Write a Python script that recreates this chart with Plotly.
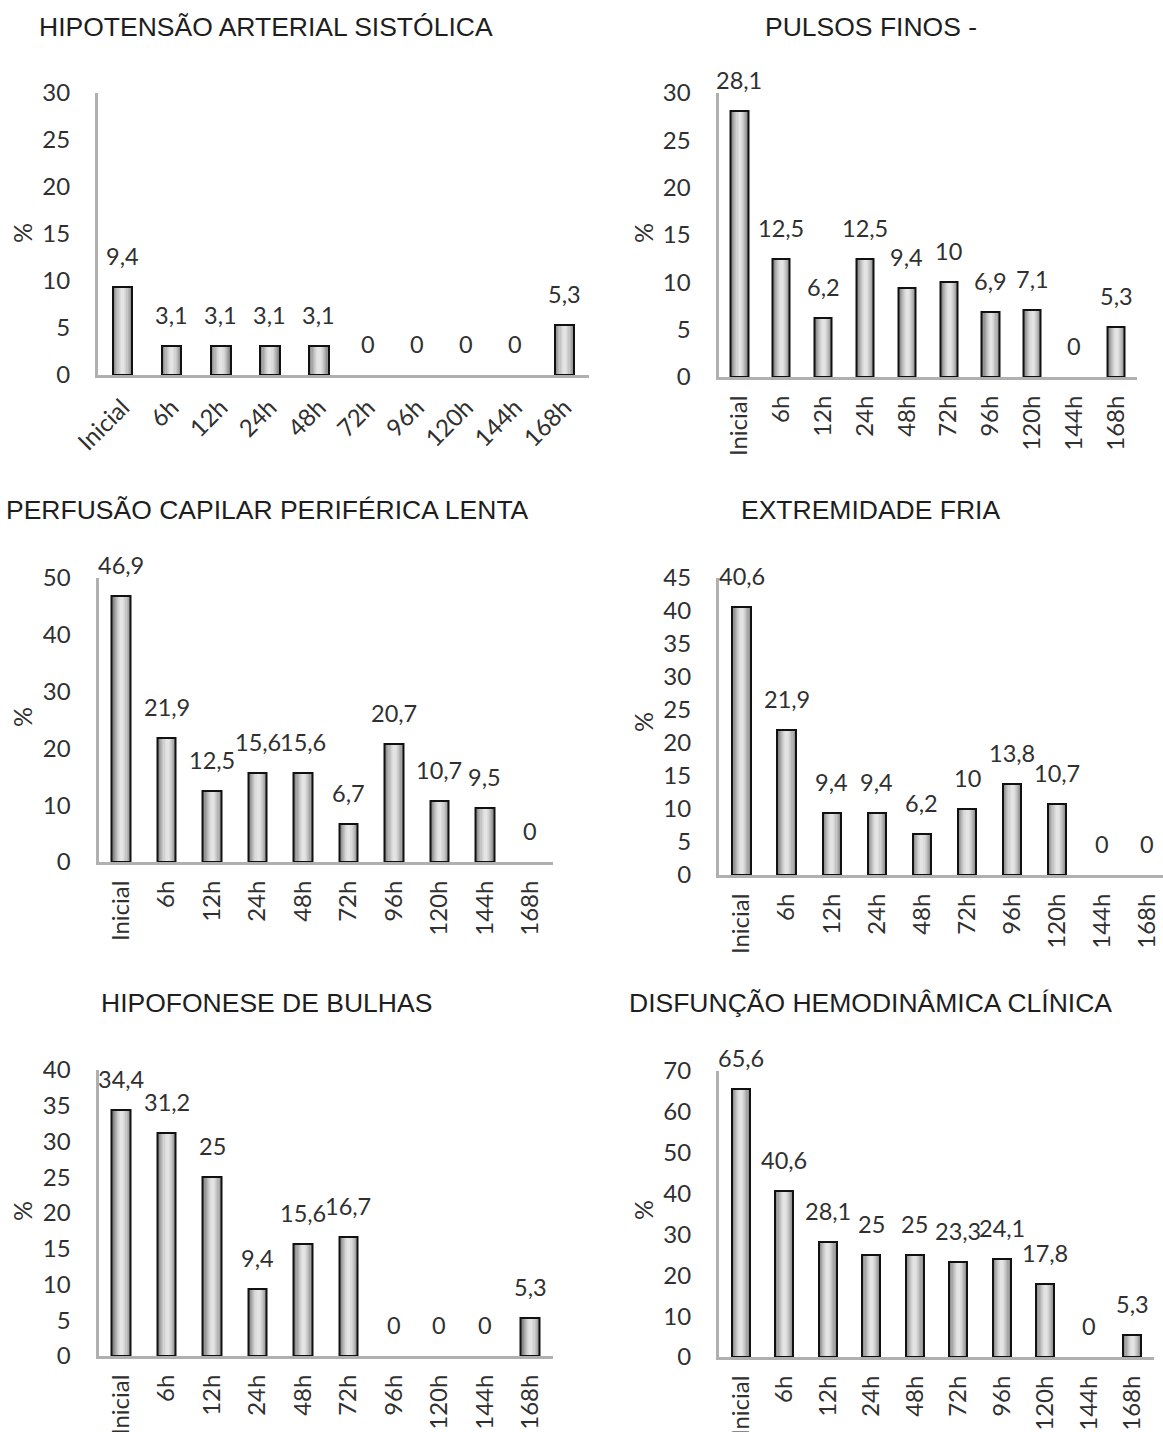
import plotly.graph_objects as go

# Time points shared by all panels
categories = ["Inicial", "6h", "12h", "24h", "48h", "72h", "96h", "120h", "144h", "168h"]

# Percentage of patients with each sign at each time point
hipotensao = [9.4, 3.1, 3.1, 3.1, 3.1, 0, 0, 0, 0, 5.3]
pulsos_finos = [28.1, 12.5, 6.2, 12.5, 9.4, 10, 6.9, 7.1, 0, 5.3]
perfusao = [46.9, 21.9, 12.5, 15.6, 15.6, 6.7, 20.7, 10.7, 9.5, 0]
extremidade = [40.6, 21.9, 9.4, 9.4, 6.2, 10, 13.8, 10.7, 0, 0]
hipofonese = [34.4, 31.2, 25, 9.4, 15.6, 16.7, 0, 0, 0, 5.3]
disfuncao = [65.6, 40.6, 28.1, 25, 25, 23.3, 24.1, 17.8, 0, 5.3]

titles = [
    "HIPOTENSÃO ARTERIAL SISTÓLICA",
    "PULSOS FINOS -",
    "PERFUSÃO CAPILAR PERIFÉRICA LENTA",
    "EXTREMIDADE FRIA",
    "HIPOFONESE DE BULHAS",
    "DISFUNÇÃO HEMODINÂMICA CLÍNICA",
]
series = [hipotensao, pulsos_finos, perfusao, extremidade, hipofonese, disfuncao]
y_max = [30, 30, 50, 45, 40, 70]
y_step = [5, 5, 10, 5, 5, 10]

W, H = 1163, 1432

# Pixel layout of each panel: plot-area left/right, top/bottom, x range end,
# bar width, x tick angle, title centre, "%" label centre
panels = [
    dict(x0=98, x1=589, top=93, bot=375, xend=9.5, bw=0.40, angle=-45,
         title=(266, 27), pct=(22, 233)),
    dict(x0=718.5, x1=1137, top=93, bot=377, xend=9.5, bw=0.41, angle=-90,
         title=(871, 27), pct=(643, 233)),
    dict(x0=98.5, x1=553, top=578, bot=862, xend=9.5, bw=0.41, angle=-90,
         title=(267, 510), pct=(22, 717)),
    dict(x0=719, x1=1163, top=578, bot=875, xend=9.345, bw=0.41, angle=-90,
         title=(870, 510), pct=(643, 722)),
    dict(x0=98.5, x1=553, top=1070, bot=1356, xend=9.5, bw=0.41, angle=-90,
         title=(266, 1003), pct=(22, 1211)),
    dict(x0=719, x1=1154, top=1071, bot=1357, xend=9.5, bw=0.41, angle=-90,
         title=(870, 1003), pct=(643, 1210)),
]

NUM_FONT = "Lato"
TITLE_FONT = "Liberation Sans"
TEXT_COLOR = "#303030"
AXIS_COLOR = "#b0b0b0"

# Nested layers that fake the cylinder-like shading of each bar
# (dark grey at the sides, nearly white in the middle)
shade_layers = [(1.00, "#848484"), (0.88, "#959595"), (0.76, "#a6a6a6"),
                (0.64, "#b6b6b6"), (0.52, "#c5c5c5"), (0.40, "#d2d2d2"),
                (0.28, "#dcdcdc"), (0.16, "#e4e4e4")]

fig = go.Figure()
annotations = []
layout_axes = {}

for i, (vals, p) in enumerate(zip(series, panels)):
    n = i + 1
    xa = "x" if n == 1 else f"x{n}"
    ya = "y" if n == 1 else f"y{n}"
    shown = [v if v > 0 else None for v in vals]

    for frac, col in shade_layers:
        fig.add_trace(go.Bar(
            x=categories, y=shown, width=p["bw"] * frac,
            marker=dict(color=col, line=dict(width=0)),
            xaxis=xa, yaxis=ya, showlegend=False, hoverinfo="skip",
        ))
    # black outline on top of the shading
    fig.add_trace(go.Bar(
        x=categories, y=shown, width=p["bw"],
        marker=dict(color="rgba(0,0,0,0)", line=dict(color="#111111", width=2)),
        xaxis=xa, yaxis=ya, showlegend=False,
        hovertemplate="%{x}: %{y}%<extra></extra>",
    ))

    # value labels above each bar
    for c, v in zip(categories, vals):
        annotations.append(dict(
            x=c, y=v, xref=xa, yref=ya, text=f"{v:g}".replace(".", ","),
            showarrow=False, yanchor="middle", yshift=31,
            font=dict(family=NUM_FONT, size=23.5, color=TEXT_COLOR),
        ))

    # panel title
    annotations.append(dict(
        x=p["title"][0] / W, y=1 - p["title"][1] / H, xref="paper", yref="paper",
        text=titles[i], showarrow=False, xanchor="center", yanchor="middle",
        font=dict(family=TITLE_FONT, size=26.5, color="#1e1e1e"),
    ))
    # y axis label
    annotations.append(dict(
        x=p["pct"][0] / W, y=1 - p["pct"][1] / H, xref="paper", yref="paper",
        text="%", textangle=-90, showarrow=False, xanchor="center", yanchor="middle",
        font=dict(family=NUM_FONT, size=25, color=TEXT_COLOR),
    ))

    key = "" if n == 1 else str(n)
    layout_axes[f"xaxis{key}"] = dict(
        domain=[p["x0"] / W, p["x1"] / W], anchor=ya,
        range=[-0.5, p["xend"]], type="category", automargin=False,
        showline=True, linecolor=AXIS_COLOR, linewidth=3,
        showgrid=False, zeroline=False, ticks="",
        tickangle=p["angle"], ticklabelstandoff=6,
        tickfont=dict(family=NUM_FONT, size=24, color=TEXT_COLOR),
        fixedrange=True,
    )
    layout_axes[f"yaxis{key}"] = dict(
        domain=[1 - p["bot"] / H, 1 - p["top"] / H], anchor=xa,
        range=[0, y_max[i]], dtick=y_step[i], tick0=0, automargin=False,
        showline=True, linecolor=AXIS_COLOR, linewidth=3,
        showgrid=False, zeroline=False, ticks="",
        ticklabelstandoff=20,
        tickfont=dict(family=NUM_FONT, size=24, color=TEXT_COLOR),
        fixedrange=True,
    )

fig.update_layout(
    width=W, height=H,
    margin=dict(l=0, r=0, t=0, b=0, autoexpand=False),
    paper_bgcolor="white", plot_bgcolor="white",
    barmode="overlay", bargap=0,
    annotations=annotations,
    **layout_axes,
)

fig.write_html("out.html")
